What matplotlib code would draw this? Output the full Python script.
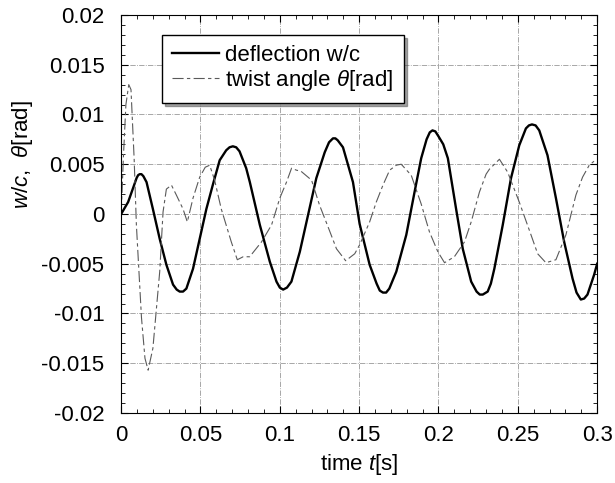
import numpy as np
import matplotlib
matplotlib.use("Agg")
import matplotlib.pyplot as plt
from matplotlib.ticker import MultipleLocator

plt.rcParams['font.family'] = ['Liberation Sans', 'DejaVu Sans']
plt.rcParams['mathtext.fontset'] = 'custom'
plt.rcParams['mathtext.it'] = 'Liberation Sans:italic'
plt.rcParams['mathtext.rm'] = 'Liberation Sans'

# deflection w/c (solid)
t_defl = [0, 0.0044, 0.0075, 0.0097, 0.0107, 0.0117, 0.0128, 0.014, 0.016, 0.020, 0.0243, 0.0285,
          0.0327, 0.035, 0.0369, 0.039, 0.0411, 0.0453, 0.0495, 0.0537, 0.0579, 0.0621,
          0.0662, 0.0683, 0.0704, 0.0725, 0.0746, 0.0788, 0.0811, 0.0874, 0.0937, 0.0979, 0.100, 0.1021,
          0.1045, 0.1073, 0.1126, 0.1178, 0.123, 0.1283, 0.131, 0.1335, 0.135, 0.1365, 0.1398,
          0.1461, 0.1503, 0.1566, 0.161, 0.163, 0.165, 0.167, 0.169, 0.1734, 0.1797, 0.1849, 0.1891,
          0.1925, 0.1945, 0.1962, 0.198, 0.200, 0.203, 0.2059, 0.2111, 0.2153, 0.2206, 0.224, 0.226,
          0.2279, 0.231, 0.233, 0.2352, 0.2405, 0.2457, 0.2509, 0.2551, 0.257, 0.2589, 0.2612, 0.2635,
          0.2687, 0.274, 0.2792, 0.2845, 0.287, 0.2897, 0.2918, 0.2939, 0.2981, 0.300]
w_defl = [0, 0.0012, 0.0026, 0.0036, 0.0039, 0.0040, 0.0040, 0.0038, 0.0032, 0.0005, -0.0025, -0.0051,
          -0.0071, -0.0076, -0.0078, -0.0078, -0.0075, -0.0055, -0.0025, 0.0005, 0.0030, 0.0054,
          0.0064, 0.0067, 0.0068, 0.0067, 0.0063, 0.0046, 0.0032, -0.0011, -0.0048, -0.0068, -0.0074, -0.0076,
          -0.0074, -0.0068, -0.0038, -0.0001, 0.0036, 0.0062, 0.0072, 0.0076, 0.0076, 0.0074, 0.0067,
          0.0032, -0.0010, -0.0051, -0.0070, -0.0077, -0.0079, -0.0079, -0.0075, -0.0058, -0.0021, 0.0022, 0.0056,
          0.0075, 0.0082, 0.0084, 0.0083, 0.0078, 0.0070, 0.0056, 0.0005, -0.0035, -0.0068, -0.0078, -0.0081,
          -0.0081, -0.0078, -0.0070, -0.0055, -0.0011, 0.0036, 0.0069, 0.0086, 0.0089, 0.0090, 0.0089, 0.0084,
          0.0059, 0.0016, -0.0028, -0.0065, -0.0079, -0.0086, -0.0085, -0.0081, -0.0061, -0.0050]

# twist angle theta (dashed)
t_twist = [0, 0.0015, 0.003, 0.0048, 0.0062, 0.0082, 0.0096, 0.0128, 0.015, 0.017,
           0.020, 0.0243, 0.0264, 0.0285, 0.0317, 0.0348, 0.039, 0.0417, 0.0453, 0.0495,
           0.053, 0.0558, 0.0589, 0.0631, 0.0694, 0.0732, 0.0769, 0.081, 0.0885, 0.0948,
           0.100, 0.1042, 0.1074, 0.1105, 0.1133, 0.120, 0.125, 0.1304, 0.1357, 0.1415,
           0.1472, 0.1503, 0.1566, 0.1608, 0.165, 0.1692, 0.1734, 0.1765, 0.1828, 0.1891,
           0.1943, 0.1996, 0.2038, 0.210, 0.2164, 0.2206, 0.2258, 0.230, 0.2321, 0.2384,
           0.2436, 0.2509, 0.2583, 0.2625, 0.2677, 0.274, 0.2803, 0.2866, 0.2908, 0.295,
           0.298]
th_twist = [0, 0.0060, 0.0110, 0.0130, 0.0125, 0.0055, -0.0011, -0.0104, -0.0145, -0.0157,
            -0.0135, -0.0058, 0.0002, 0.0025, 0.0029, 0.0019, 0.0005, -0.0008, 0.0016, 0.0037,
            0.0047, 0.0049, 0.0034, 0.0005, -0.0028, -0.0046, -0.0043, -0.0043, -0.0028, -0.0011,
            0.0016, 0.0032, 0.0046, 0.0044, 0.0043, 0.0034, 0.0009, -0.0013, -0.0035, -0.0047,
            -0.0040, -0.0031, -0.0008, 0.0012, 0.0029, 0.0044, 0.0049, 0.0050, 0.0039, 0.0010,
            -0.0018, -0.0038, -0.0049, -0.0043, -0.0028, -0.0008, 0.0022, 0.0040, 0.0045, 0.0055,
            0.0042, 0.0012, -0.0021, -0.0040, -0.0049, -0.0046, -0.0021, 0.0019, 0.0037, 0.0049,
            0.0053]

x_ticks = [0, 0.05, 0.1, 0.15, 0.2, 0.25, 0.3]
x_labels = ['0', '0.05', '0.1', '0.15', '0.2', '0.25', '0.3']
y_ticks = [-0.02, -0.015, -0.01, -0.005, 0, 0.005, 0.01, 0.015, 0.02]
y_labels = ['-0.02', '-0.015', '-0.01', '-0.005', '0', '0.005', '0.01', '0.015', '0.02']

fig = plt.figure(figsize=(6.15, 4.83), dpi=100)
ax = fig.add_axes([0.197, 0.145, 0.774, 0.824])

ax.plot(t_defl, w_defl, color='black', lw=1.7, label='deflection w/c',
        solid_joinstyle='round')
ax.plot(t_twist, th_twist, color='#5a5a5a', lw=0.8, linestyle=(0, (10, 3, 3, 3)),
        label=r'twist angle $\theta$[rad]')

ax.set_xlim(0, 0.3)
ax.set_ylim(-0.02, 0.02)
ax.set_xticks(x_ticks)
ax.set_xticklabels(x_labels)
ax.set_yticks(y_ticks)
ax.set_yticklabels(y_labels)
ax.xaxis.set_minor_locator(MultipleLocator(0.01))
ax.yaxis.set_minor_locator(MultipleLocator(0.001))
ax.tick_params(which='both', direction='in', top=True, right=True, labelsize=16)
ax.tick_params(axis='x', pad=9)
ax.tick_params(axis='y', pad=12)
ax.tick_params(which='major', length=5)
ax.tick_params(which='minor', length=3)
ax.grid(True, color='#999999', linestyle='-.', lw=0.6)

ax.set_xlabel(r'time $t$[s]', fontsize=16)
ax.set_ylabel(r'$w/c$,  $\theta$[rad]', fontsize=16)
ax.yaxis.set_label_coords(-0.18, 0.65)

leg = ax.legend(loc='upper left', bbox_to_anchor=(0.086, 0.95), fontsize=16,
                fancybox=False, shadow=True, edgecolor='black', framealpha=1,
                handlelength=2.1, handletextpad=0.3, borderpad=0.45,
                labelspacing=0.1, borderaxespad=0)
leg.get_frame().set_linewidth(1.0)

fig.savefig('out.png', dpi=100)
